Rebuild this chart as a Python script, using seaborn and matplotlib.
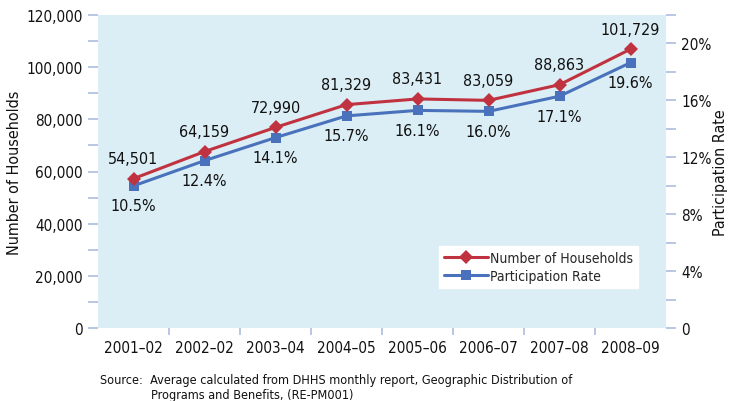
import matplotlib
matplotlib.use("Agg")
import matplotlib.pyplot as plt
import matplotlib.ticker as mticker
from matplotlib import font_manager
from matplotlib.lines import Line2D
import seaborn as sns
import pandas as pd
import numpy as np

years = ["2001\u201302", "2002\u201302", "2003\u201304", "2004\u201305",
         "2005\u201306", "2006\u201307", "2007\u201308", "2008\u201309"]
households = [54501, 64159, 72990, 81329, 83431, 83059, 88863, 101729]
rates = [0.105, 0.124, 0.141, 0.157, 0.161, 0.160, 0.171, 0.196]
left_ticks = [0, 20000, 40000, 60000, 80000, 100000, 120000]
right_ticks = [0, 0.04, 0.08, 0.12, 0.16, 0.20]
right_labels = ["0", "4%", "8%", "12%", "16%", "20%"]

sns.set_theme(style="white")

names = {f.name for f in font_manager.fontManager.ttflist}
cond = [f for f in font_manager.fontManager.ttflist
        if f.name == "DejaVu Sans" and str(f.stretch) in ("condensed", "semi-condensed", "500", "600")]
if "Liberation Sans Narrow" in names:
    plt.rcParams["font.family"] = ["Liberation Sans Narrow", "DejaVu Sans"]
    FS = 12.5
elif cond:
    plt.rcParams["font.family"] = ["DejaVu Sans"]
    plt.rcParams["font.stretch"] = "condensed"
    FS = 11
else:
    plt.rcParams["font.family"] = ["Liberation Sans", "DejaVu Sans"]
    FS = 11

RED = "#c0323f"
BLUE = "#4a72bc"
BG = "#dbeef5"
TICKC = "#aebedf"

df = pd.DataFrame({"year": years, "households": households, "rate": rates})

fig = plt.figure(figsize=(7.31, 4.02), dpi=100)
ax = fig.add_axes([98/731, 1-329/402, (666-98)/731, (329-16)/402])
ax.set_facecolor(BG)
ax2 = ax.twinx()

x = np.arange(len(years))
sns.lineplot(x=x, y=df["households"], ax=ax, color=BLUE, marker="s",
             markersize=7.5, markeredgewidth=0, linewidth=2.2)
sns.lineplot(x=x, y=df["rate"], ax=ax2, color=RED, marker="D",
             markersize=7.5, markeredgewidth=0, linewidth=2.2)

ax.set_xlim(-0.5, 7.5)
ax.set_ylim(0, 120000)
ax2.set_ylim(0, 0.22)

for a in (ax, ax2):
    for s in a.spines.values():
        s.set_visible(False)

ax.set_xticks(x)
ax.set_xticklabels(years, fontsize=FS, color="#111111")
ax.set_xticks(np.arange(0.5, 7.0, 1.0), minor=True)
ax.tick_params(axis="x", which="major", length=0, pad=9)
ax.tick_params(axis="x", which="minor", length=5, width=1.2, color=TICKC, direction="out", bottom=True)

ax.set_yticks(left_ticks)
ax.yaxis.set_major_formatter(mticker.FuncFormatter(lambda v, p: f"{int(v):,}"))
ax.yaxis.set_minor_locator(mticker.MultipleLocator(10000))
ax.tick_params(axis="y", which="both", length=7, width=1.2, color=TICKC, direction="out", left=True, labelsize=FS, labelcolor="#111111", pad=4)

ax2.set_yticks(right_ticks)
ax2.set_yticklabels(right_labels)
ax2.yaxis.set_minor_locator(mticker.FixedLocator([0.02, 0.06, 0.10, 0.14, 0.18, 0.22]))
ax2.tick_params(axis="y", which="both", length=7, width=1.2, color=TICKC, direction="out", right=True, labelsize=FS, labelcolor="#111111", pad=4)

ax.set_xlabel("")
ax.set_ylabel("Number of Households", fontsize=FS + 0.5, color="#111111", labelpad=3)
ax2.set_ylabel("Participation Rate", fontsize=FS + 0.5, color="#111111", labelpad=1)

for xi, h, r in zip(x, households, rates):
    ax2.annotate(f"{h:,}", (xi, r), xytext=(0, 9), textcoords="offset points",
                 ha="center", va="bottom", fontsize=FS + 0.5, color="#111111")
    ax.annotate(f"{r*100:.1f}%", (xi, h), xytext=(0, -9), textcoords="offset points",
                ha="center", va="top", fontsize=FS + 0.5, color="#111111")

handles = [Line2D([], [], color=RED, marker="D", markersize=7.5, markeredgewidth=0, linewidth=2.2),
           Line2D([], [], color=BLUE, marker="s", markersize=7.5, markeredgewidth=0, linewidth=2.2)]
leg = ax2.legend(handles, ["Number of Households", "Participation Rate"],
                 loc="lower right", bbox_to_anchor=(0.951, 0.128), frameon=True,
                 fancybox=False, edgecolor="white", framealpha=1, fontsize=10,
                 handlelength=3.2, handletextpad=0.15, borderpad=0.35, labelspacing=0.3,
                 borderaxespad=0)

fig.text(100/731, 1-381/402, "Source:  Average calculated from DHHS monthly report, Geographic Distribution of",
         fontsize=9.1, color="#111111", va="center", ha="left")
fig.text(151/731, 1-396/402, "Programs and Benefits, (RE-PM001)",
         fontsize=9.1, color="#111111", va="center", ha="left")

fig.savefig("out.png", dpi=100)
